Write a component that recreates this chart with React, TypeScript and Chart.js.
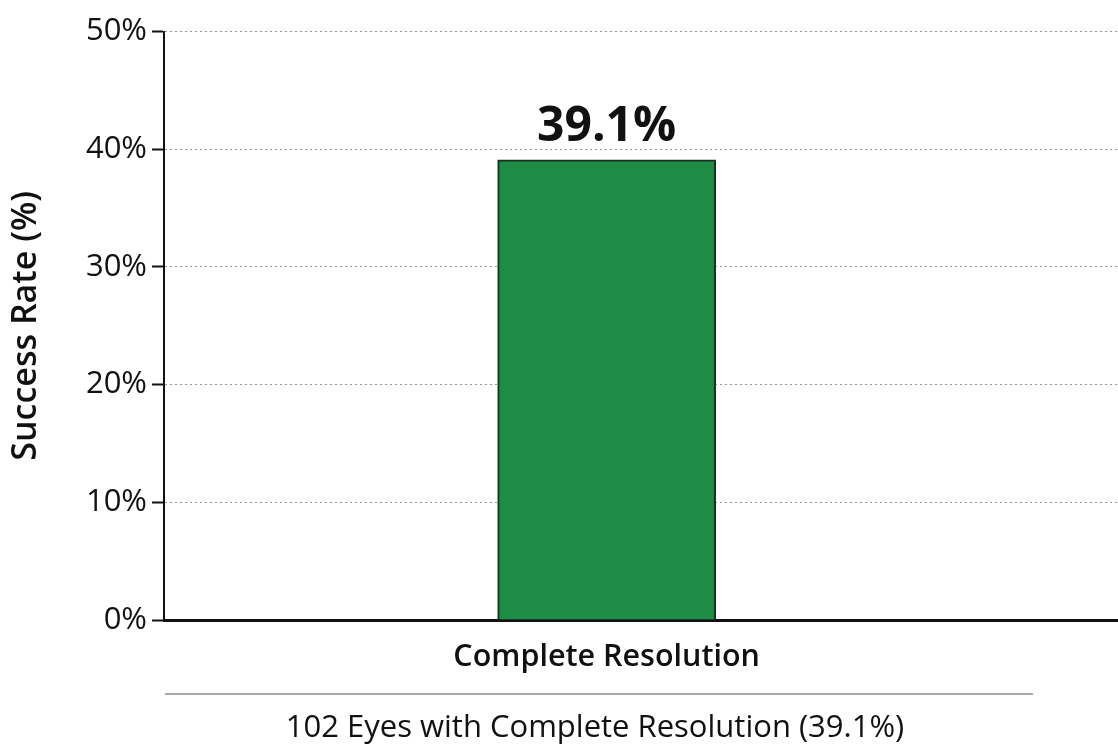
import React, { useEffect, useRef } from 'react';
import { Chart, registerables } from 'chart.js';

Chart.register(...registerables);

const categories = ['Complete Resolution'];
const values = [39.1];
const yTickValues = [0, 10, 20, 30, 40, 50];
const yAxisTitle = 'Success Rate (%)';
const footnote = '102 Eyes with Complete Resolution (39.1%)';

const FONT = '"Open Sans", "Noto Sans", sans-serif';

export default function App() {
  const ref = useRef<HTMLCanvasElement>(null);

  useEffect(() => {
    if (!ref.current) return;
    const valueLabel = {
      id: 'valueLabel',
      afterDatasetsDraw(chart: any) {
        const ctx = chart.ctx;
        const meta = chart.getDatasetMeta(0);
        meta.data.forEach((el: any, i: number) => {
          ctx.save();
          ctx.font = `bold 48px ${FONT}`;
          ctx.fillStyle = '#111';
          ctx.textAlign = 'center';
          ctx.textBaseline = 'alphabetic';
          ctx.fillText(values[i].toFixed(1) + '%', el.x, el.y - 19);
          ctx.restore();
        });
      },
    };

    const chart = new Chart(ref.current, {
      type: 'bar',
      data: {
        datasets: [
          {
            label: categories[0],
            data: values.map((v, i) => ({ x: i, y: v })),
            backgroundColor: '#1f8c45',
            borderColor: '#18301f',
            borderWidth: 2,
            barThickness: 218,
          } as any,
        ],
      },
      options: {
        animation: false,
        responsive: false,
        layout: { padding: { top: 23, right: 0, bottom: 52, left: 0 } },
        plugins: {
          legend: { display: false },
          tooltip: { enabled: false },
          title: { display: false },
        },
        scales: {
          x: {
            type: 'linear',
            offset: false,
            min: -0.464,
            max: 0.536,
            afterBuildTicks: (axis: any) => {
              axis.ticks = categories.map((_, i) => ({ value: i }));
            },
            afterFit: (axis: any) => {
              axis.height = 73;
            },
            grid: { display: false, drawTicks: false },
            border: { display: true, color: '#111', width: 3 },
            ticks: {
              padding: 19,
              color: '#111',
              maxRotation: 0,
              font: { family: FONT, size: 30.5, weight: '600' },
              callback: (v: any) => categories[Number(v)] ?? '',
            },
          },
          y: {
            min: 0,
            max: 50,
            afterBuildTicks: (axis: any) => {
              axis.ticks = yTickValues.map((v) => ({ value: v }));
            },
            afterFit: (axis: any) => {
              axis.width = 156;
            },
            grid: {
              color: '#9a9a9a',
              lineWidth: 1,
              tickLength: 12,
              tickColor: '#111',
              tickWidth: 2,
              tickBorderDash: [],
            } as any,
            border: { display: true, color: '#111', width: 2, dash: [2, 3] },
            ticks: {
              padding: 5,
              color: '#111',
              font: { family: FONT, size: 31 },
              callback: (v: any) => v + '%',
            },
            title: {
              display: true,
              text: yAxisTitle,
              color: '#111',
              font: { family: FONT, size: 34, weight: '600', lineHeight: 1 },
              padding: { top: 1, bottom: 0 },
            },
          },
        },
      },
      plugins: [valueLabel],
    } as any);

    return () => chart.destroy();
  }, []);

  return (
    <div style={{ position: 'absolute', left: 8, top: 8, width: 1110, height: 737 }}>
      <canvas ref={ref} width={1110} height={737} style={{ display: 'block' }} />
      <div
        style={{
          position: 'absolute',
          left: 157,
          top: 685,
          width: 868,
          height: 2,
          background: '#a8a8a8',
        }}
      />
      <div
        style={{
          position: 'absolute',
          left: 187,
          width: 800,
          top: 702,
          textAlign: 'center',
          fontFamily: FONT,
          fontSize: 31,
          lineHeight: '31px',
          color: '#111',
          whiteSpace: 'nowrap',
        }}
      >
        {footnote}
      </div>
    </div>
  );
}
